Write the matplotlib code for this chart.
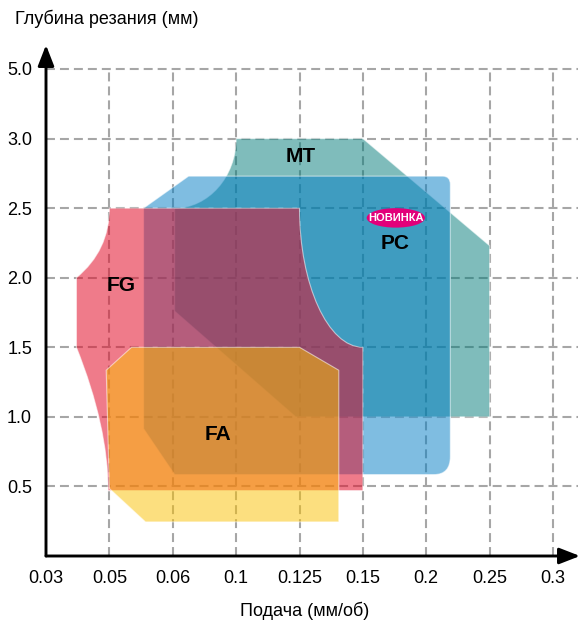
import matplotlib
matplotlib.use('Agg')
import matplotlib.pyplot as plt
from matplotlib.path import Path
from matplotlib.patches import PathPatch, Ellipse, FancyArrowPatch

plt.rcParams['font.family'] = ['Liberation Sans', 'DejaVu Sans']

# categorical axes: feed (mm/rev) and cutting depth (mm)
feed_labels = ['0.03', '0.05', '0.06', '0.1', '0.125', '0.15', '0.2', '0.25', '0.3']
depth_labels = ['0.5', '1.0', '1.5', '2.0', '2.5', '3.0', '5.0']

# chipbreaker areas in grid units (feed index, depth index)
# codes: M move, L line, Q quadratic (ctrl, end), C cubic (ctrl, ctrl, end)
mt_pts = [(3.0, 6.0), (5.0, 6.0), (7.0, 4.46), (7.0, 2.0), (3.94, 2.0),
          (2.03, 3.52), (2.03, 5.0), (2.56, 5.0), (3.0, 5.45), (3.0, 6.0)]
mt_codes = 'MLLLLLLCCC'

pc_pts = [(1.54, 5.0), (2.25, 5.46), (6.26, 5.46), (6.38, 5.46), (6.38, 5.34),
          (6.38, 1.43), (6.38, 1.17), (6.12, 1.17), (2.03, 1.17), (1.54, 1.83)]
pc_codes = 'MLLQQLQQLL'

fg_pts = [(1.0, 5.0), (4.0, 5.0), (4.0, 3.9), (4.45, 3.0), (5.0, 3.0),
          (5.0, 0.94), (0.98, 0.94), (0.98, 1.86), (0.48, 3.0), (0.48, 4.0),
          (1.0, 4.39), (1.0, 5.0)]
fg_codes = 'MLCCCLLQQLQQ'

fa_pts = [(1.35, 3.0), (4.0, 3.0), (4.62, 2.67), (4.62, 0.49), (1.57, 0.49),
          (1.0, 0.97), (0.95, 2.67)]
fa_codes = 'MLLLLLL'

regions = [
    ('MT', mt_pts, mt_codes, (0 / 255, 123 / 255, 121 / 255, 0.5), (4.02, 5.74)),
    ('PC', pc_pts, pc_codes, (0 / 255, 125 / 255, 197 / 255, 0.5), (5.51, 4.49)),
    ('FG', fg_pts, fg_codes, (226 / 255, 15 / 255, 42 / 255, 0.55), (1.18, 3.89)),
    ('FA', fa_pts, fa_codes, (251 / 255, 193 / 255, 0 / 255, 0.5), (2.71, 1.74)),
]

CODE_MAP = {'M': Path.MOVETO, 'L': Path.LINETO, 'Q': Path.CURVE3, 'C': Path.CURVE4}


def make_path(pts, codes):
    verts = list(pts) + [pts[0]]
    cc = [CODE_MAP[c] for c in codes] + [Path.CLOSEPOLY]
    return Path(verts, cc)


W, H = 581, 628
fig = plt.figure(figsize=(W / 100, H / 100), dpi=100)
# axes: x=0 at px 46, x=8 at px 553; y=0 at px 556, y=7 at px 69
x0, x1 = 46, 581
y0, y1 = 556, 40
ax = fig.add_axes([x0 / W, (H - y0) / H, (x1 - x0) / W, (y0 - y1) / H])
xs = (553 - 46) / 8
ys = (556 - 69) / 7
ax.set_xlim(0, (x1 - x0) / xs)
ax.set_ylim(0, (y0 - y1) / ys)
for s in ax.spines.values():
    s.set_visible(False)

grid_kw = dict(color='#a6a6a6', lw=1.5, linestyle=(0, (4.3, 2.4)), zorder=1)
for i in range(1, len(depth_labels) + 1):
    ax.plot([0, 8.4], [i, i], **grid_kw)
for i in range(1, len(feed_labels)):
    ax.plot([i, i], [0, len(depth_labels)], **grid_kw)

for k, (name, pts, codes, color, lpos) in enumerate(regions):
    ax.add_patch(PathPatch(make_path(pts, codes), facecolor=color,
                           edgecolor=(1, 1, 1, 0.55), lw=0.8, zorder=2 + k))
    ax.text(lpos[0], lpos[1], name, ha='center', va='center', fontsize=15,
            fontweight='bold', color='black', zorder=10)

# "new" badge on PC
ax.add_patch(Ellipse((5.52, 4.86), 0.92, 0.28, facecolor='#e2007a',
                     edgecolor='none', zorder=9))
ax.text(5.52, 4.855, 'НОВИНКА', ha='center', va='center', fontsize=8,
        fontweight='bold', color='white', zorder=10)

# axis arrows
arrow_kw = dict(arrowstyle='-|>,head_length=0.9,head_width=0.35', mutation_scale=14,
                color='black', lw=2.1, zorder=8, clip_on=False, shrinkA=0, shrinkB=0)
ax.add_patch(FancyArrowPatch((0, 0), ((580 - x0) / xs, 0), **arrow_kw))
ax.add_patch(FancyArrowPatch((0, 0), (0, (y0 - 45) / ys), **arrow_kw))

ax.set_xticks(range(len(feed_labels)), feed_labels)
ax.set_yticks(range(1, len(depth_labels) + 1), depth_labels)
ax.tick_params(axis='both', length=0, labelsize=13)
ax.tick_params(axis='x', pad=10)
ax.tick_params(axis='y', pad=10)

fig.text(15 / W, 1 - 19 / H, 'Глубина резания (мм)', ha='left', va='center', fontsize=13)
fig.text(305 / W, 1 - 611 / H, 'Подача (мм/об)', ha='center', va='center', fontsize=13)

fig.savefig('out.png', dpi=100)
